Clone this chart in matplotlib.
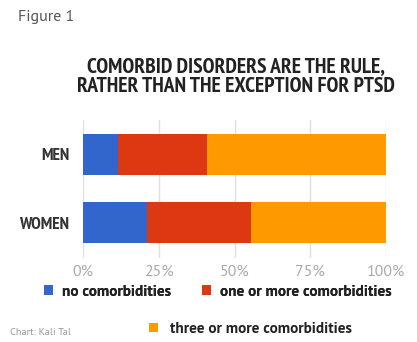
import matplotlib.pyplot as plt

groups = ["MEN", "WOMEN"]
no_comorb = [11.5, 21]
one_more = [29.5, 34.5]
three_more = [59, 44.5]
series_names = ["no comorbidities", "one or more comorbidities", "three or more comorbidities"]
colors = ["#3366cc", "#dc3912", "#ff9900"]
xticks = [0, 25, 50, 75, 100]
xtick_labels = ["0%", "25%", "50%", "75%", "100%"]

narrow = ["PT Sans Narrow", "DejaVu Sans"]
plain = ["PT Sans", "DejaVu Sans"]

fig = plt.figure(figsize=(4.17, 3.42), dpi=100)
ax = fig.add_axes([0.199, 0.246, 0.727, 0.403])

ypos = list(range(len(groups)))
left = [0] * len(groups)
bars = []
for vals, col, name in zip([no_comorb, one_more, three_more], colors, series_names):
    b = ax.barh(ypos, vals, left=left, height=0.6, color=col, label=name, zorder=2)
    bars.append(b)
    left = [l + v for l, v in zip(left, vals)]

ax.set_xlim(0, 100)
ax.set_ylim(1.51, -0.5)
ax.set_xticks(xticks)
ax.set_xticklabels(xtick_labels, color="#aaaaaa", fontsize=11.5, family=plain)
ax.set_yticks(ypos)
ax.set_yticklabels(groups, family=narrow, fontweight="bold", fontsize=12.5, color="#333333")
ax.tick_params(axis="x", length=0, pad=5)
ax.tick_params(axis="y", length=0, pad=10)
ax.grid(axis="x", color="#e0e0e0", linewidth=1, zorder=0)
for s in ax.spines.values():
    s.set_visible(False)

fig.text(0.043, 0.95, "Figure 1", fontsize=11.5, color="#555555", va="center", family=plain)
fig.text(0.565, 0.777, "COMORBID DISORDERS ARE THE RULE,\nRATHER THAN THE EXCEPTION FOR PTSD",
         ha="center", va="center", family=narrow, fontweight="bold", fontsize=15.5,
         color="#222222", linespacing=1.1)

leg_font = {"family": plain, "weight": "bold", "size": 11}
leg1 = fig.legend(bars[:2], series_names[:2], loc="center", bbox_to_anchor=(0.522, 0.147), ncol=2,
                  frameon=False, handlelength=0.6, handleheight=0.6, handletextpad=0.6,
                  columnspacing=2.0, prop=leg_font, labelcolor="#222222")
fig.legend(bars[2:], series_names[2:], loc="center", bbox_to_anchor=(0.6, 0.038),
           frameon=False, handlelength=0.6, handleheight=0.6, handletextpad=0.8,
           prop=leg_font, labelcolor="#222222")
fig.add_artist(leg1)
fig.text(0.024, 0.028, "Chart: Kali Tal", fontsize=7.5, color="#999999", va="center", family=plain)

fig.savefig("out.png", dpi=100)
